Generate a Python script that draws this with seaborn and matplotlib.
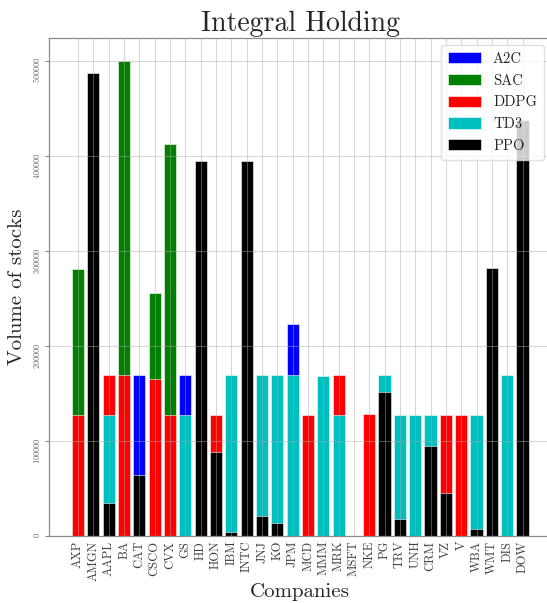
import numpy as np
import pandas as pd
import matplotlib
matplotlib.use("Agg")
import matplotlib.pyplot as plt
import seaborn as sns

companies = ['AXP', 'AMGN', 'AAPL', 'BA', 'CAT', 'CSCO', 'CVX', 'GS', 'HD', 'HON',
             'IBM', 'INTC', 'JNJ', 'KO', 'JPM', 'MCD', 'MMM', 'MRK', 'MSFT', 'NKE',
             'PG', 'TRV', 'UNH', 'CRM', 'VZ', 'V', 'WBA', 'WMT', 'DIS', 'DOW']

a2c = [0, 0, 0, 0, 170000, 0, 0, 170000, 0, 0,
       0, 0, 0, 0, 224000, 0, 0, 0, 0, 0,
       0, 0, 0, 0, 0, 0, 0, 0, 0, 0]
sac = [281000, 0, 0, 500000, 0, 256000, 413000, 0, 0, 0,
       0, 0, 0, 0, 0, 0, 0, 0, 0, 0,
       0, 0, 0, 0, 0, 0, 0, 0, 0, 0]
ddpg = [128000, 0, 170000, 170000, 0, 166000, 128000, 0, 0, 128000,
        0, 0, 0, 0, 0, 128000, 0, 170000, 0, 128500,
        0, 0, 0, 0, 128000, 128000, 0, 0, 0, 0]
td3 = [0, 0, 128000, 0, 0, 0, 0, 128000, 0, 0,
       170000, 0, 170000, 170000, 170000, 0, 169000, 128000, 0, 0,
       170000, 128000, 128000, 128000, 0, 0, 128000, 0, 170000, 0]
ppo = [0, 487500, 35600, 0, 64700, 0, 0, 0, 395000, 88900,
       5000, 395000, 21600, 13900, 0, 0, 0, 800, 0, 0,
       152400, 18400, 0, 95600, 45800, 0, 8200, 282000, 800, 438000]

series = [('A2C', a2c, 'blue'), ('SAC', sac, 'green'), ('DDPG', ddpg, 'red'),
          ('TD3', td3, 'c'), ('PPO', ppo, 'black')]

sns.set_style("whitegrid")
plt.rcParams['font.family'] = 'serif'
plt.rcParams['font.serif'] = ['cmr10', 'DejaVu Serif']
plt.rcParams['axes.unicode_minus'] = False
plt.rcParams['axes.formatter.use_mathtext'] = True
plt.rcParams['mathtext.fontset'] = 'cm'

fig = plt.figure(figsize=(5.47, 6.03), dpi=100)
ax = fig.add_axes([0.0896, 0.1103, 0.9188, 0.8275])

for name, vals, col in series:
    df = pd.DataFrame({'company': companies, 'volume': vals})
    sns.barplot(data=df, x='company', y='volume', color=col, saturation=1,
                width=0.8, edgecolor='white', linewidth=0.4, label=name, ax=ax,
                errorbar=None)

ax.set_xlim(-1.89, 30.89)
ax.set_ylim(0, 525000)
ax.set_axisbelow(False)
ax.grid(True, axis='both', color='#aaaaaa', alpha=0.45, linewidth=0.8)

for s in ax.spines.values():
    s.set_color('0.55')
    s.set_linewidth(0.9)

ax.tick_params(axis='x', labelrotation=90, labelsize=9, labelcolor='0.25',
               length=0, pad=3)
ax.tick_params(axis='y', labelrotation=90, labelsize=6, labelcolor='0.4',
               left=True, length=3, color='0.55', pad=2)

ax.set_title('Integral Holding', fontsize=20, pad=5)
ax.set_xlabel('Companies', fontsize=15, labelpad=2)
ax.set_ylabel('Volume of stocks', fontsize=15, labelpad=4)

ax.legend(loc='upper right', fontsize=10.5, handlelength=2.3, handleheight=0.8,
          labelspacing=0.55, borderpad=0.5, framealpha=0.8, edgecolor='0.85')

fig.savefig('out.png', dpi=100)
